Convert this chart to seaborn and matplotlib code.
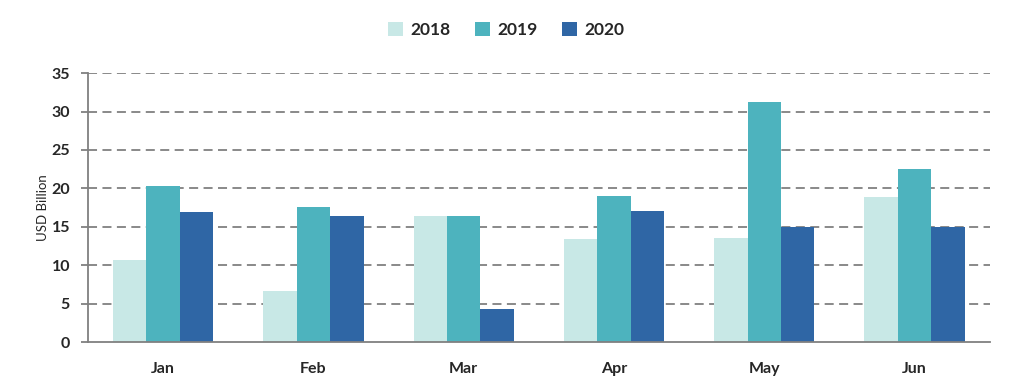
import pandas as pd
import matplotlib
matplotlib.use("Agg")
import matplotlib.pyplot as plt
import seaborn as sns
from matplotlib.ticker import FixedLocator

months = ["Jan", "Feb", "Mar", "Apr", "May", "Jun"]
years = ["2018", "2019", "2020"]
v2018 = [10.7, 6.6, 16.4, 13.4, 13.5, 18.9]
v2019 = [20.3, 17.6, 16.4, 19.0, 31.3, 22.5]
v2020 = [16.9, 16.4, 4.3, 17.0, 15.0, 15.0]
colors = ["#C8E8E6", "#4DB3BE", "#2F66A5"]

df = pd.DataFrame({"month": months, "2018": v2018, "2019": v2019, "2020": v2020})
df = df.melt(id_vars="month", var_name="year", value_name="value")

sns.set_style("white")
plt.rcParams["font.family"] = ["Lato", "DejaVu Sans"]

fig = plt.figure(figsize=(10.12, 3.91), dpi=100)
ax = fig.add_axes([0.087, 0.125, 0.891, 0.688])

sns.barplot(data=df, x="month", y="value", hue="year", hue_order=years,
            palette=colors, width=0.667, gap=0, saturation=1, ax=ax,
            edgecolor="none", linewidth=0)

ax.set_ylim(0, 35)
ax.set_xlim(-0.5, 5.5)
ax.set_yticks(range(0, 36, 5))
ax.set_axisbelow(True)
for y in range(5, 36, 5):
    ax.axhline(y, color="#808080", linestyle=(0, (5, 3)), linewidth=1.3, zorder=0)

for s in ["top", "right"]:
    ax.spines[s].set_visible(False)
for s in ["left", "bottom"]:
    ax.spines[s].set_color("#808080")
    ax.spines[s].set_linewidth(1.3)

ax.xaxis.set_minor_locator(FixedLocator([i - 0.5 for i in range(7)]))
ax.tick_params(axis="x", which="major", length=0, pad=14, labelsize=11.5)
ax.tick_params(axis="x", which="minor", length=5, width=1.3, color="#808080")
ax.tick_params(axis="y", which="major", length=5, width=1.3, color="#808080",
               labelsize=11.5, pad=8, left=True)
for lab in ax.get_xticklabels() + ax.get_yticklabels():
    lab.set_fontweight("bold")

ax.set_xlabel("")
ax.set_ylabel("USD Billion", fontsize=9.5, labelpad=2)

ax.legend_.remove()
handles, labels = ax.get_legend_handles_labels()
fig.legend(handles, labels, loc="center", bbox_to_anchor=(0.5, 0.923), ncol=3,
           frameon=False, prop={"weight": "bold", "size": 12.5},
           handlelength=0.9, handleheight=0.9, handletextpad=0.4, columnspacing=1.4)

fig.savefig("out.png", dpi=100)
